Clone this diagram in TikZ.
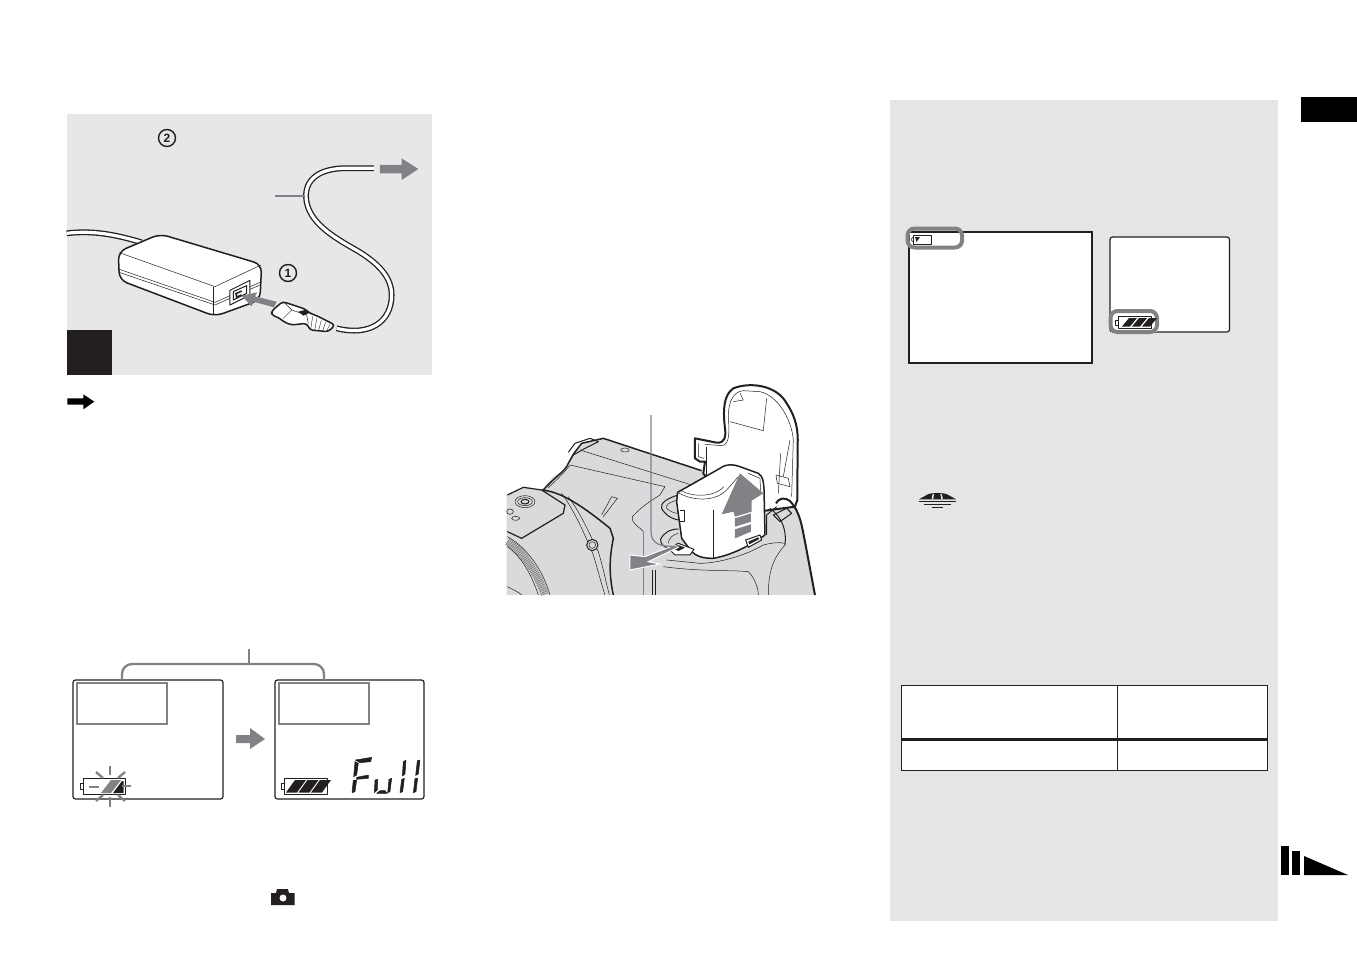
\documentclass[tikz,border=0pt]{standalone}
\usepackage{fontspec}
\setsansfont{Liberation Sans}
\usepackage{tikz}
\usetikzlibrary{positioning}
\definecolor{panelgray}{HTML}{E5E5E5}
\definecolor{figgray}{HTML}{E6E7E8}
\definecolor{camgray}{HTML}{D9DADB}
\definecolor{markgray}{HTML}{808285}
\definecolor{inkblack}{HTML}{231F20}
\tikzset{
  cordline/.style={draw=inkblack, line width=1.3pt, double=white, double distance=3.2pt},
  inkline/.style={draw=inkblack, line width=1pt, line join=round},
  thinline/.style={draw=inkblack, line width=.5pt, line join=round},
  heavyline/.style={draw=inkblack, line width=1.5pt, line join=round},
  markline/.style={draw=markgray, line width=2.3pt},
  lcdscreen/.style={draw=inkblack, line width=1.2pt, fill=white, rounded corners=2.5pt},
  lcdseg/.style={fill=inkblack, draw=inkblack, line width=.5pt, line join=round},
  circnum/.style={draw=inkblack, line width=1.4pt, circle, minimum size=17pt, inner sep=0pt,
    font=\sffamily\bfseries\fontsize{12}{12}\selectfont, text=inkblack},
  figA/.style={shift={(60,105)}, x=.3333pt, y=-.3333pt},
  figB/.style={shift={(500,375)}, x=.3333pt, y=-.3333pt},
  figC/.style={shift={(340,750)}, x=.3333pt, y=-.3333pt},
  figD/.style={shift={(895,220)}, x=.3333pt, y=-.3333pt},
}
\begin{document}
\begin{tikzpicture}[x=1pt, y=-1pt]
  \useasboundingbox (0,0) rectangle (1357,954);
  \fill[white] (0,0) rectangle (1357,954);
  % Right hand panel and page marks
  \fill[panelgray] (890,100) rectangle (1278,921);
  \fill[black] (1301,97) rectangle (1357,122);
  \fill[black] (1281,846) rectangle (1289,875);
  \fill[black] (1292,851) rectangle (1300,875);
  \fill[black] (1304,856) -- (1348,875) -- (1304,875) -- cycle;

  % Adapter figure
  \fill[figgray] (67,114) rectangle (432,375);
  \fill[inkblack] (67,330) rectangle (112,375);
  \begin{scope}[figA]
    \draw[cordline] (942,190) -- (880,190) .. controls (790,185) and (740,215) .. (738,270)
      .. controls (738,340) and (800,385) .. (880,430)
      .. controls (960,475) and (995,520) .. (995,570)
      .. controls (995,650) and (930,695) .. (830,670);
    \draw[cordline] (20,385) .. controls (100,375) and (170,390) .. (245,412);
    % adapter body
    \draw[heavyline, fill=white, rounded corners=8pt] (175,440) -- (300,387) -- (605,478) -- (600,585)
      -- (465,634) -- (178,525) -- cycle;
    \draw[thinline] (178,443) -- (465,545) -- (603,480);
    \draw[thinline] (175,492) -- (465,592) -- (600,532);
    \draw[thinline] (177,502) -- (465,600) -- (600,540);
    \draw[thinline] (460,545) -- (460,630);
    \draw[inkline, fill=white] (510,556) -- (570,526) -- (570,570) -- (510,600) -- cycle;
    \draw[inkline] (520,560) -- (560,542) -- (560,565) -- (520,585) -- cycle;
    \draw[line width=1.5pt, inkblack] (545,558) -- (528,566) -- (530,576) -- (545,570);
    % plug
    \draw[heavyline, fill=white, rounded corners=3pt] (635,618) -- (668,590) -- (690,597) -- (735,612) -- (750,625)
      -- (770,632) -- (825,660) -- (805,680) -- (750,675) -- (740,655) -- (695,660) -- (670,650) -- (660,640) -- (635,630) -- cycle;
    \draw[thinline] (670,590) -- (695,615) -- (670,640);
    \draw[thinline] (695,615) -- (740,630) -- (745,655);
    \fill[inkblack] (715,620) -- (735,615) -- (750,623) -- (730,632) -- cycle;
    \foreach \i in {0,...,4}
      \draw[draw=inkblack, line width=.4pt] (758+13*\i,634+6*\i) -- (752+12*\i,674+1*\i);
    % arrows
    \fill[markgray] (650,590) -- (585,574) -- (592,562) -- (545,572) -- (575,604) -- (580,590) -- (642,607) -- cycle;
    \fill[markgray] (960,180) -- (1025,180) -- (1025,160) -- (1075,192) -- (1025,225) -- (1025,205) -- (960,205) -- cycle;
    \draw[markline] (645,273) -- (735,273);
    % black arrow below the figure
    \fill[black] (22,880) -- (70,880) -- (70,868) -- (103,890) -- (70,913) -- (70,899) -- (22,899) -- cycle;
  \end{scope}
  \node[circnum] (numTwo) at (167,138) {2};
  \node[circnum] (numOne) at (288,273) {1};

  % Charge displays
  \draw[lcdscreen] (73,680) rectangle (223,799);
  \draw[lcdscreen] (275,680) rectangle (424,799);
  \draw[markline] (77,683) rectangle (167,724);
  \draw[markline] (279,683) rectangle (369,724);
  \draw[markline, rounded corners=10pt] (122,680) -- (122,664) -- (324,664) -- (324,680);
  \draw[markline] (249,649) -- (249,664);
  \fill[markgray] (236,735) -- (250,735) -- (250,728) -- (265,739) -- (250,749) -- (250,743) -- (236,743) -- cycle;
  % flashing battery
  \draw[inkline] (83,778) rectangle (125,794);
  \draw[inkline] (83,783) -- (80.5,783) -- (80.5,789) -- (83,789);
  \draw[markline] (89,787) -- (99,787);
  \fill[markgray] (101,793) -- (111,780) -- (121,780) -- (111,793) -- cycle;
  \fill[inkblack] (113,793) -- (122,781) -- (123.5,781) -- (123.5,793) -- cycle;
  \draw[markline] (110,766) -- (110,775);
  \draw[markline] (110,797) -- (110,807);
  \draw[markline] (96,772) -- (103,778);
  \draw[markline] (125,772) -- (118,778);
  \draw[markline] (96,801) -- (103,795);
  \draw[markline] (125,801) -- (118,795);
  \draw[markline] (122,786) -- (131,786);
  % full battery
  \draw[inkline] (284,778) rectangle (327,794);
  \draw[inkline] (284,783) -- (281.5,783) -- (281.5,789) -- (284,789);
  \foreach \i in {0,1,2}
    \fill[inkblack] (286+12.5*\i,792.5) -- (295+12.5*\i,780) -- (306+12.5*\i,780) -- (297+12.5*\i,792.5) -- cycle;
  \begin{scope}[figC]
    \draw[lcdseg] (46,30) -- (95,22) -- (92,35) -- (60,38) -- cycle;
    \draw[lcdseg] (45,35) -- (55,40) -- (50,75) -- (41,80) -- cycle;
    \draw[lcdseg] (50,82) -- (85,75) -- (85,85) -- (50,88) -- cycle;
    \draw[lcdseg] (40,90) -- (50,90) -- (45,125) -- (36,128) -- cycle;
    \draw[lcdseg] (105,90) -- (113,88) -- (112,120) -- (103,128) -- cycle;
    \draw[lcdseg] (147,88) -- (155,85) -- (150,125) -- (143,128) -- cycle;
    \draw[lcdseg] (110,130) -- (120,122) -- (135,122) -- (142,130) -- cycle;
    \draw[lcdseg] (190,35) -- (198,30) -- (195,72) -- (187,78) -- cycle;
    \draw[lcdseg] (185,88) -- (193,85) -- (188,125) -- (180,128) -- cycle;
    \draw[lcdseg] (232,32) -- (240,30) -- (235,72) -- (227,76) -- cycle;
    \draw[lcdseg] (225,86) -- (233,84) -- (228,125) -- (220,128) -- cycle;
  \end{scope}
  % camera icon
  \fill[inkblack] (271,893) -- (276,893) -- (277,889) -- (288,889) -- (289,893) -- (294.5,893) -- (294.5,905) -- (271,905) -- cycle;
  \fill[white] (283,898) circle (3.5);

  % Camera figure
  \begin{scope}[figB]
    \fill[camgray] (20,660) -- (20,360) -- (75,335) -- (125,345) -- (160,305) -- (195,285) -- (215,240)
      -- (245,205) -- (310,190) -- (600,285) -- (820,390) -- (855,370) -- (890,400) -- (905,455) -- (945,660) -- cycle;
    % lid
    \draw[draw=inkblack, line width=2pt, line join=round, fill=white] (610,295) -- (615,260) -- (600,260) -- (585,250) -- (585,190) -- (650,203)
      .. controls (675,205) and (678,185) .. (675,160) .. controls (668,100) and (672,60) .. (700,40)
      .. controls (750,20) and (830,30) .. (860,85) .. controls (890,130) and (895,170) .. (893,210)
      -- (892,375) -- (885,395) -- (700,420) -- cycle;
    \draw[thinline] (615,208) -- (665,212) .. controls (690,210) and (688,170) .. (685,125)
      .. controls (685,80) and (700,50) .. (730,47) -- (780,50) .. controls (830,60) and (875,130) .. (880,195) -- (875,365);
    \draw[thinline] (690,140) -- (790,167) -- (800,70);
    \draw[thinline] (720,55) -- (730,75) -- (700,80);
    \draw[thinline] (620,215) -- (620,305);
    \draw[thinline] (595,205) -- (595,245) -- (612,250);
    \draw[thinline] (828,300) -- (865,310) -- (870,335) -- (832,325) -- cycle;
    \draw[thinline] (842,235) -- (835,355);
    \draw[thinline] (870,195) -- (850,305);
    % compartment
    \draw[inkline] (535,360) .. controls (500,370) and (480,385) .. (485,400) .. controls (495,420) and (520,435) .. (540,435);
    \draw[thinline] (535,375) .. controls (510,380) and (495,390) .. (500,400) .. controls (510,410) and (525,415) .. (535,415);
    \draw[inkline] (800,480) -- (800,420) -- (830,395);
    % battery
    \draw[heavyline, fill=white] (533,352) -- (660,280) .. controls (680,265) and (700,268) .. (720,275)
      -- (775,295) .. controls (790,305) and (790,320) .. (792,340) -- (795,480)
      .. controls (760,505) and (700,540) .. (640,550) .. controls (610,550) and (590,545) .. (575,530)
      -- (545,490) -- (530,380) -- cycle;
    \draw[thinline] (533,352) .. controls (570,375) and (640,385) .. (680,345) -- (715,305);
    \draw[thinline] (540,345) .. controls (570,365) and (640,370) .. (672,335);
    \draw[thinline] (745,295) -- (780,310) -- (782,350);
    \draw[thinline] (640,405) -- (640,552);
    \draw[inkline, fill=white] (540,408) -- (553,408) -- (553,440) -- (540,440);
    \draw[inkline, fill=white] (737,495) -- (780,480) -- (785,495) -- (745,517) -- cycle;
    \fill[inkblack] (745,500) -- (775,487) -- (778,492) -- (748,508) -- cycle;
    % up arrow
    \fill[markgray] (665,418) -- (720,295) -- (790,355) -- (755,377) -- (755,410) -- (705,425) -- (700,410) -- cycle;
    \fill[markgray] (705,430) -- (753,415) -- (753,440) -- (705,455) -- cycle;
    \fill[markgray] (705,463) -- (753,448) -- (753,470) -- (705,490) -- cycle;
    % grip
    \draw[draw=inkblack, line width=2pt, line join=round] (828,385) .. controls (835,370) and (855,365) .. (870,378)
      .. controls (900,410) and (905,450) .. (915,500) -- (945,660);
    \draw[inkline] (820,420) -- (860,400) -- (875,415) -- (840,440) -- cycle;
    \draw[inkline] (810,400) .. controls (850,430) and (860,470) .. (855,510);
    \draw[thinline] (855,510) .. controls (830,540) and (805,570) .. (805,660);
    \draw[thinline] (855,505) .. controls (835,500) and (810,505) .. (790,510) .. controls (730,545) and (650,565) .. (600,565) -- (500,555);
    \draw[thinline] (490,575) .. controls (600,590) and (700,585) .. (745,590) .. controls (765,610) and (775,640) .. (775,660);
    % top plate
    \draw[heavyline] (130,345) .. controls (170,300) and (195,290) .. (205,265) -- (222,235) -- (245,205) -- (310,190) -- (605,287);
    \draw[inkline] (205,232) -- (225,205) -- (270,190) -- (295,200) -- (255,220) -- (220,240);
    \draw[thinline] (240,225) -- (575,330);
    \draw[thinline] (145,338) .. controls (175,310) and (195,290) .. (210,270) -- (495,335) -- (480,360)
      .. controls (440,385) and (420,400) .. (397,425) .. controls (395,450) and (420,455) .. (430,470);
    \draw[markgray, line width=.8pt] (430,470) -- (430,660);
    \draw[inkline] (458,585) -- (458,660);
    \draw[thinline] (467,585) -- (467,660);
    \draw[thinline] (375,225) ellipse (13 and 6);
    \draw[thinline] (305,420) -- (335,365) -- (352,370) -- (310,425);
    % left block and lens
    \draw[draw=inkblack, line width=1.2pt] (22,360) -- (70,337) -- (125,345) -- (195,390) -- (190,415) -- (65,490) -- (22,470);
    \draw[thinline] (75,380) ellipse (30 and 18);
    \draw[thinline] (75,380) ellipse (22 and 12);
    \draw[inkline] (75,380) ellipse (12 and 7);
    \draw[thinline] (30,410) ellipse (10 and 8);
    \draw[thinline] (47,430) ellipse (12 and 6);
    \draw[heavyline] (125,345) .. controls (185,350) and (250,395) .. (330,460) -- (340,490)
      .. controls (330,540) and (325,590) .. (340,660);
    \draw[thinline] (185,355) .. controls (225,410) and (255,480) .. (280,540) .. controls (295,590) and (305,630) .. (315,660);
    \draw[thinline] (205,365) .. controls (245,420) and (265,470) .. (295,530) .. controls (310,580) and (320,630) .. (328,660);
    \draw[inkline, fill=camgray] (277,510) circle (17);
    \draw[thinline] (277,510) circle (10);
    \draw[draw=gray, line width=8pt, dash pattern=on .9pt off .9pt] (22,500) .. controls (70,530) and (110,590) .. (135,660);
    \draw[thinline] (22,485) .. controls (85,520) and (130,590) .. (150,660);
    \draw[thinline] (22,515) .. controls (65,545) and (95,600) .. (115,660);
    \draw[thinline] (22,635) .. controls (40,645) and (55,650) .. (65,660);
    % latch and release arrow
    \draw[inkline] (535,462) .. controls (510,462) and (490,475) .. (482,492) .. controls (480,505) and (490,515) .. (505,520);
    \draw[thinline] (535,475) .. controls (520,478) and (505,490) .. (505,505);
    \draw[inkline, fill=white] (505,520) -- (535,505) -- (582,523) -- (570,540) -- (525,540) -- cycle;
    \fill[inkblack] (515,518) -- (535,510) -- (555,518) -- (535,528) -- cycle;
    \draw[draw=white, line width=1pt, fill=markgray] (390,540) -- (435,545) -- (525,510) -- (535,517) -- (445,560) -- (480,567) -- (390,585) -- cycle;
    \draw[markgray, line width=1.2pt] (453,120) -- (453,470) .. controls (453,505) and (480,520) .. (540,512);
  \end{scope}

  % Battery remaining screens
  \draw[draw=inkblack, line width=1.5pt, fill=white] (909,232) rectangle (1092,363);
  \draw[draw=markgray, line width=4pt, rounded corners=7pt] (907.5,228.5) rectangle (962,247.5);
  \draw[thinline] (913,235) rectangle (931,244);
  \draw[thinline] (913,237) -- (911,239.5) -- (913,242);
  \fill[inkblack] (915,237) -- (920,237) -- (916.5,242) -- cycle;
  \draw[lcdscreen] (1110,237) rectangle (1229.5,332);
  \fill[white] (1111,311) rectangle (1157,332);
  \draw[draw=markgray, line width=4pt, rounded corners=7pt] (1110.5,311) rectangle (1157,332);
  \draw[inkline] (1118,316.5) rectangle (1151,328);
  \draw[inkline] (1118,320) -- (1115.5,320) -- (1115.5,325) -- (1118,325);
  \foreach \i in {0,1,2}
    \fill[inkblack] (1122+10*\i,326.5) -- (1129+10*\i,318) -- (1137+10*\i,318) -- (1130+10*\i,326.5) -- cycle;

  % Memory stick mark
  \begin{scope}[figD]
    \fill[inkblack] (72,838) -- (95,825) .. controls (105,817) and (150,817) .. (160,825) -- (183,838) -- cycle;
    \fill[panelgray] (113,822) -- (117,822) -- (115,837) -- (110,837) -- cycle;
    \fill[panelgray] (136,822) -- (140,822) -- (144,837) -- (139,837) -- cycle;
    \draw[inkblack, line width=1pt] (72,844) -- (183,844);
    \draw[inkblack, line width=1pt] (87,853) -- (168,853);
    \draw[inkblack, line width=1pt] (110,862) -- (145,862);
  \end{scope}

  % Table
  \draw[draw=inkblack, line width=1pt, fill=white] (901.5,685.5) rectangle (1267,770.5);
  \draw[inkblack, line width=1pt] (1117,685.5) -- (1117,770.5);
  \draw[inkblack, line width=3pt] (901.5,739) -- (1267,739);
\end{tikzpicture}
\end{document}
